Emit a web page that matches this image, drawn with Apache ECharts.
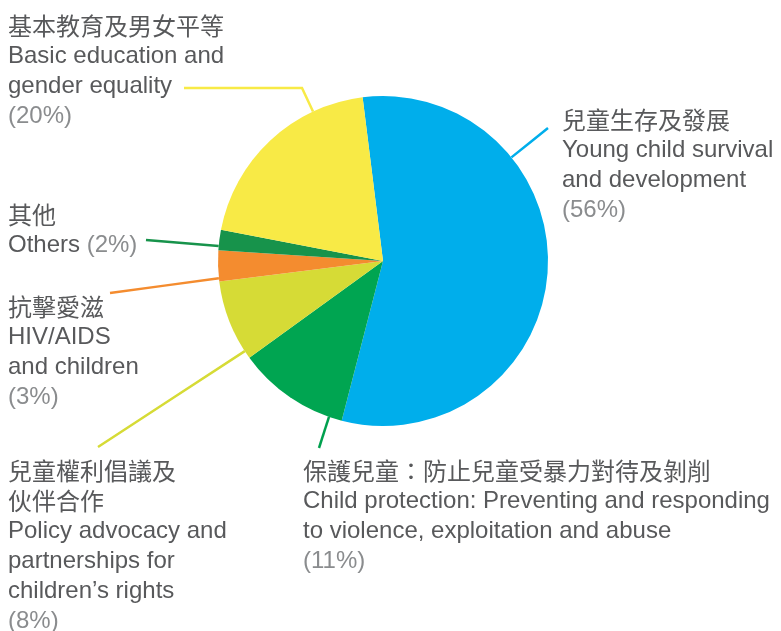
<!DOCTYPE html>
<html>
<head>
<meta charset="utf-8">
<script src="https://cdn.jsdelivr.net/npm/echarts@6/dist/echarts.min.js"></script>
<style>
html,body{margin:0;padding:0;background:#fff;}
#chart{width:781px;height:631px;}
</style>
</head>
<body>
<div id="chart"></div>
<script>
// ---- data ----
var namesZh = ['兒童生存及發展', '保護兒童：防止兒童受暴力對待及剝削', '兒童權利倡議及\n伙伴合作', '抗擊愛滋', '其他', '基本教育及男女平等'];
var namesEn = ['Young child survival\nand development', 'Child protection: Preventing and responding\nto violence, exploitation and abuse', 'Policy advocacy and\npartnerships for\nchildren’s rights', 'HIV/AIDS\nand children', 'Others', 'Basic education and\ngender equality'];
var values = [56, 11, 8, 3, 2, 20];

// ---- styles / layout ----
var colors = ['#00AEEB', '#00A551', '#D6DB36', '#F48C2F', '#17934B', '#F8EA46'];
var lineColors = ['#00AEEB', '#00A04E', '#D6DB36', '#F48C2F', '#17934B', '#F8EA46'];
var pieCenter = [383, 261];
var pieRadius = 165;
// label top-left positions
var labelPos = [[562, 105], [303, 456], [8, 456], [8, 292], [8, 200], [8, 11]];
// leader line: anchor angle (deg clockwise from top) and outer points
var anchorAngles = [51.1, 199.1, 236.9, 264, 275.2, 334.9];
var outerPoints = [[[548, 128]], [[319, 448]], [[98, 447]], [[110, 293]], [[146, 240]], [[302, 88], [184, 88]]];
var inlinePct = [false, false, false, false, true, false];

var latin = "'Liberation Sans', Arial, 'Noto Sans CJK TC', sans-serif";
var cjk = "'Noto Sans CJK TC', sans-serif";

var data = values.map(function (v, i) {
  var zh = namesZh[i].split('\n').map(function (l) { return '{c|' + l + '}'; }).join('\n');
  var en = namesEn[i].split('\n').map(function (l) { return '{e|' + l + '}'; }).join('\n');
  var txt;
  if (inlinePct[i]) {
    txt = zh + '\n' + '{e|' + namesEn[i] + ' }{p|(' + v + '%)}';
  } else {
    txt = zh + '\n' + en + '\n{p|(' + v + '%)}';
  }
  return {
    value: v,
    name: namesEn[i],
    itemStyle: { color: colors[i] },
    labelLine: { lineStyle: { color: lineColors[i] } },
    label: { formatter: txt }
  };
});

var chart = echarts.init(document.getElementById('chart'), null, { renderer: 'canvas' });
chart.setOption({
  animation: false,
  series: [{
    type: 'pie',
    center: pieCenter,
    radius: pieRadius,
    startAngle: 97.1,
    clockwise: true,
    avoidLabelOverlap: false,
    emphasis: { disabled: true },
    data: data,
    label: {
      show: true,
      position: 'outside',
      rich: {
        c: { fontFamily: cjk, fontSize: 24, color: '#58595B', lineHeight: 30 },
        e: { fontFamily: latin, fontSize: 24, color: '#58595B', lineHeight: 30 },
        p: { fontFamily: latin, fontSize: 24, color: '#8A8C8E', lineHeight: 30 }
      }
    },
    labelLine: {
      show: true,
      lineStyle: { width: 2.5 }
    },
    labelLayout: function (params) {
      var i = params.dataIndex;
      var a = anchorAngles[i] * Math.PI / 180;
      var edge = [pieCenter[0] + pieRadius * Math.sin(a), pieCenter[1] - pieRadius * Math.cos(a)];
      var pts = [edge].concat(outerPoints[i]);
      if (pts.length === 2) {
        pts = [edge, [(edge[0] + pts[1][0]) / 2, (edge[1] + pts[1][1]) / 2], pts[1]];
      }
      return {
        x: labelPos[i][0],
        y: labelPos[i][1],
        align: 'left',
        verticalAlign: 'top',
        labelLinePoints: pts
      };
    }
  }]
});
</script>
</body>
</html>
